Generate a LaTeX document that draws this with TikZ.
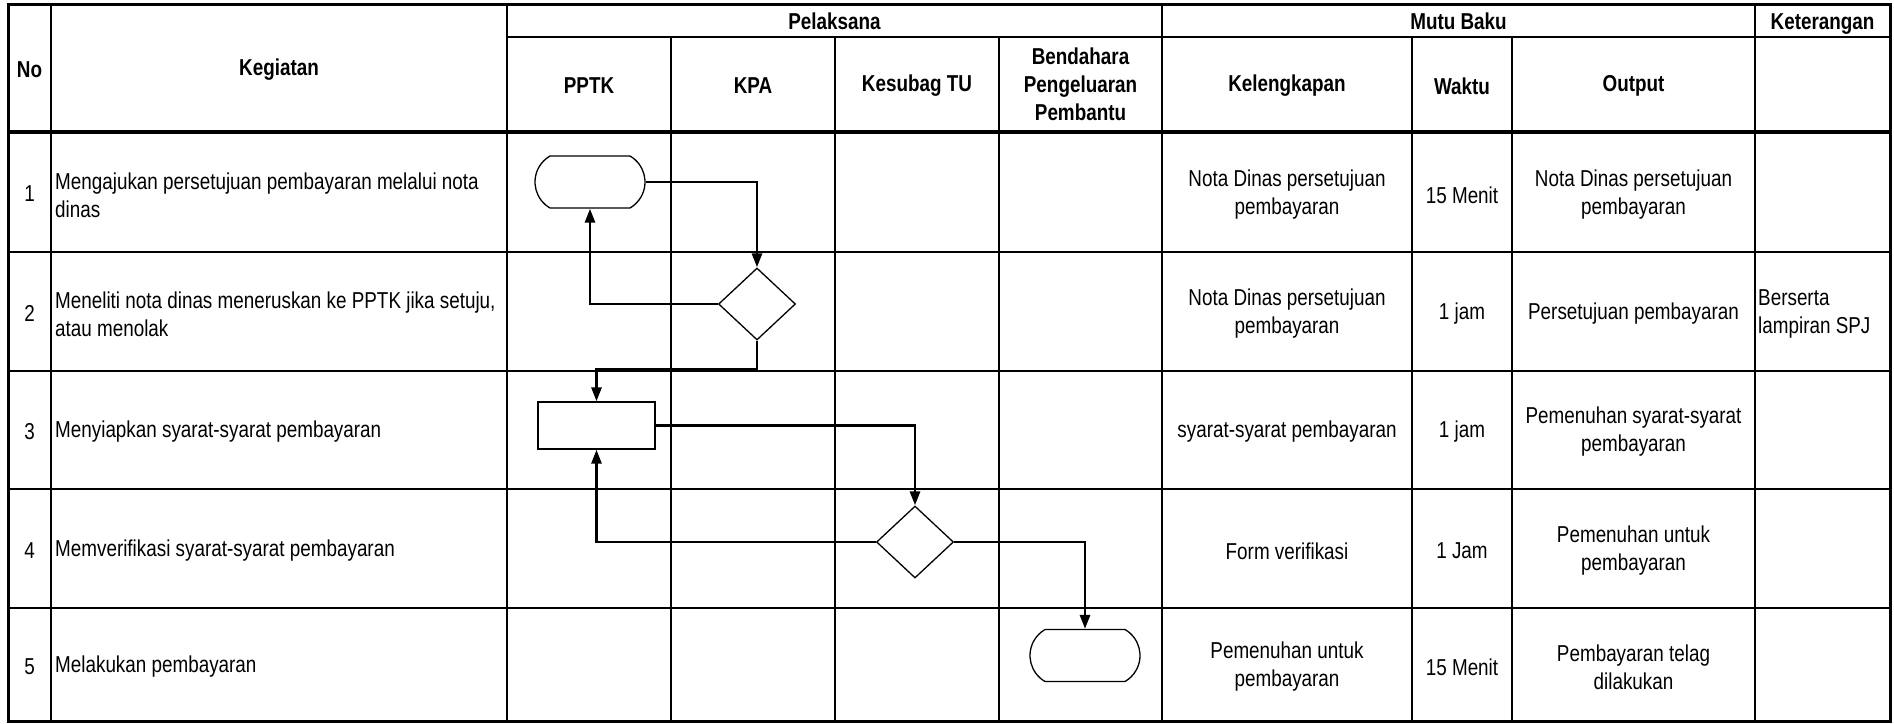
\documentclass[tikz,border=0pt]{standalone}
\usepackage{fontspec}
\setmainfont{Liberation Sans}[FakeStretch=0.82]
\usetikzlibrary{arrows.meta,shapes.geometric,shapes.misc}
\newcommand\myfs{\fontsize{23}{28}\selectfont}
\tikzset{
  gridline/.style={line width=2pt},
  rowline/.style={line width=2.4pt},
  cell/.style={align=center, inner sep=0pt, font=\myfs},
  lcell/.style={align=left, inner sep=0pt, font=\myfs, anchor=west},
  hdr/.style={align=center, inner sep=0pt, font=\myfs\bfseries},
  conn/.style={line width=2.8pt, -{Triangle[length=14pt,width=10pt]}},
  term/.style={draw, line width=1.3pt, shape=rounded rectangle, rounded rectangle arc length=120, minimum width=110pt, minimum height=52pt, inner sep=0pt},
  proc/.style={draw, line width=1.3pt, rectangle, minimum width=117pt, minimum height=47pt, inner sep=0pt},
  dec/.style={draw, line width=1.3pt, diamond, minimum width=77pt, minimum height=72pt, inner sep=0pt},
}
\begin{document}
\begin{tikzpicture}[x=1pt,y=-1pt]
\useasboundingbox (0,0) rectangle (1894,723);
% table grid
\draw[rowline] (507,37) -- (1890,37);
\draw[line width=4pt] (8,132) -- (1890,132);
\foreach \yy in {252,371,489,608} \draw[rowline] (8,\yy) -- (1890,\yy);
\foreach \xx in {51,507,1162,1755} \draw[gridline] (\xx,4) -- (\xx,721);
\foreach \xx in {671,835,999,1412,1512} \draw[gridline] (\xx,37) -- (\xx,721);
\draw[line width=3pt] (8,4) rectangle (1890,721);
% headers
\node[hdr] (hno) at (29.5,70) {No};
\node[hdr] (hkeg) at (279,70) {Kegiatan};
\node[hdr, anchor=base] (hpel) at (834.5,29) {Pelaksana};
\node[hdr, anchor=base] (hmutu) at (1458.5,29) {Mutu Baku};
\node[hdr, anchor=base] (hket) at (1822.5,29) {Keterangan};
\node[hdr] (hpptk) at (589,86) {PPTK};
\node[hdr] (hkpa) at (753,86) {KPA};
\node[hdr] (hkes) at (917,86) {Kesubag TU};
\node[hdr] (hben) at (1080.5,84) {Bendahara\\Pengeluaran\\Pembantu};
\node[hdr] (hkel) at (1287,86) {Kelengkapan};
\node[hdr] (hwak) at (1462,86) {Waktu};
\node[hdr] (hout) at (1633.5,86) {Output};
% row 1
\node[cell] (n1) at (29.5,194) {1};
\node[lcell] (k1) at (55,195) {Mengajukan persetujuan pembayaran melalui nota\\dinas};
\node[cell] (l1) at (1287,195) {Nota Dinas persetujuan\\pembayaran};
\node[cell] (w1) at (1462,195) {15 Menit};
\node[cell] (o1) at (1633.5,195) {Nota Dinas persetujuan\\pembayaran};
% row 2
\node[cell] (n2) at (29.5,313) {2};
\node[lcell] (k2) at (55,314) {Meneliti nota dinas meneruskan ke PPTK jika setuju,\\atau menolak};
\node[cell] (l2) at (1287,314) {Nota Dinas persetujuan\\pembayaran};
\node[cell] (w2) at (1462,314) {1 jam};
\node[cell] (o2) at (1633.5,314) {Persetujuan pembayaran};
\node[lcell] (e2) at (1758,314) {Berserta\\lampiran SPJ};
% row 3
\node[cell] (n3) at (29.5,432) {3};
\node[lcell] (k3) at (55,432) {Menyiapkan syarat-syarat pembayaran};
\node[cell] (l3) at (1287,432) {syarat-syarat pembayaran};
\node[cell] (w3) at (1462,432) {1 jam};
\node[cell] (o3) at (1633.5,432) {Pemenuhan syarat-syarat\\pembayaran};
% row 4
\node[cell] (n4) at (29.5,551) {4};
\node[lcell] (k4) at (55,551) {Memverifikasi syarat-syarat pembayaran};
\node[cell] (l4) at (1287,551) {Form verifikasi};
\node[cell] (w4) at (1462,551) {1 Jam};
\node[cell] (o4) at (1633.5,551) {Pemenuhan untuk\\pembayaran};
% row 5
\node[cell] (n5) at (29.5,667) {5};
\node[lcell] (k5) at (55,667) {Melakukan pembayaran};
\node[cell] (l5) at (1287,667) {Pemenuhan untuk\\pembayaran};
\node[cell] (w5) at (1462,667) {15 Menit};
\node[cell] (o5) at (1633.5,667) {Pembayaran telag\\dilakukan};
% flowchart shapes
\node[term] (t1) at (590,182) {};
\node[dec] (d1) at (757,304) {};
\node[proc] (p1) at (596.5,425.5) {};
\node[dec] (d2) at (915,542) {};
\node[term] (t2) at (1085,655.5) {};
\coordinate (c1) at (757,369);
% connectors
\draw[conn] (t1.east) -| (d1.north);
\draw[conn] (d1.west) -| (t1.south);
\draw[conn] (d1.south) -- (c1) -| (p1.north);
\draw[conn] (p1.east) -| (d2.north);
\draw[conn] (d2.west) -| (p1.south);
\draw[conn] (d2.east) -| (t2.north);
\end{tikzpicture}
\end{document}
